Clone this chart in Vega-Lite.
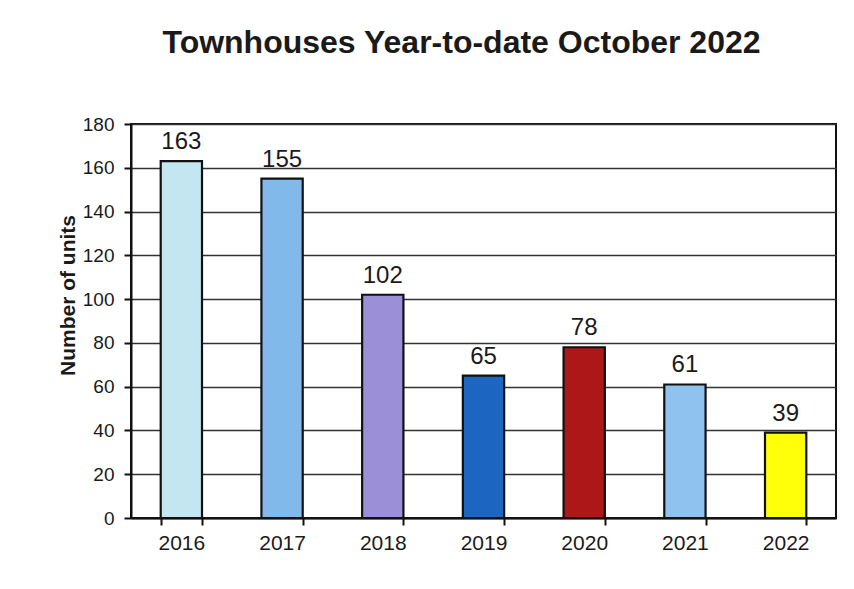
{
  "$schema": "https://vega.github.io/schema/vega-lite/v6.json",
  "width": 705,
  "height": 394,
  "autosize": {"type": "none"},
  "padding": {"left": 131, "top": 124, "right": 18, "bottom": 71},
  "background": "white",
  "title": {
    "text": "Townhouses Year-to-date October 2022",
    "font": "Liberation Sans",
    "fontSize": 32,
    "fontWeight": "bold",
    "color": "#1a1a1a",
    "anchor": "middle",
    "dx": -22,
    "offset": 55
  },
  "data": {
    "values": [
      {"year": "2016", "units": 163, "color": "#c4e6f1"},
      {"year": "2017", "units": 155, "color": "#80b9ea"},
      {"year": "2018", "units": 102, "color": "#9b90d8"},
      {"year": "2019", "units": 65, "color": "#1c66c1"},
      {"year": "2020", "units": 78, "color": "#ae1717"},
      {"year": "2021", "units": 61, "color": "#8fc2ef"},
      {"year": "2022", "units": 39, "color": "#ffff0a"}
    ]
  },
  "encoding": {
    "x": {
      "field": "year",
      "type": "nominal",
      "scale": {"paddingInner": 0.59, "paddingOuter": 0.295},
      "axis": {
        "title": null,
        "labelAngle": 0,
        "labelFont": "Liberation Sans",
        "labelFontSize": 21,
        "labelColor": "#1a1a1a",
        "labelPadding": 7,
        "tickBand": "extent",
        "tickSize": 7,
        "tickWidth": 2,
        "tickColor": "#111",
        "domainColor": "#111",
        "domainWidth": 2,
        "grid": false
      }
    },
    "y": {
      "field": "units",
      "type": "quantitative",
      "scale": {"domain": [0, 180], "nice": false},
      "axis": {
        "title": "Number of units",
        "titleFont": "Liberation Sans",
        "titleFontSize": 21,
        "titleFontWeight": "bold",
        "titleColor": "#1a1a1a",
        "titleAngle": -90,
        "titleX": -63,
        "titleY": 171,
        "titleBaseline": "middle",
        "titleAlign": "center",
        "values": [0, 20, 40, 60, 80, 100, 120, 140, 160, 180],
        "labelFont": "Liberation Sans",
        "labelFontSize": 19,
        "labelColor": "#1a1a1a",
        "labelPadding": 10,
        "tickSize": 7,
        "tickWidth": 2,
        "tickColor": "#111",
        "domainColor": "#111",
        "domainWidth": 2,
        "grid": true,
        "gridColor": "#333",
        "gridWidth": 1.6,
        "gridOpacity": 1
      }
    }
  },
  "layer": [
    {
      "mark": {"type": "bar", "stroke": "#111", "strokeWidth": 2.2},
      "encoding": {
        "fill": {"field": "color", "type": "nominal", "scale": null}
      }
    },
    {
      "mark": {
        "type": "text",
        "baseline": "alphabetic",
        "dy": -12,
        "font": "Liberation Sans",
        "fontSize": 24,
        "color": "#1a1a1a"
      },
      "encoding": {"text": {"field": "units", "type": "quantitative"}}
    }
  ],
  "config": {
    "view": {"stroke": "#111", "strokeWidth": 2}
  }
}
